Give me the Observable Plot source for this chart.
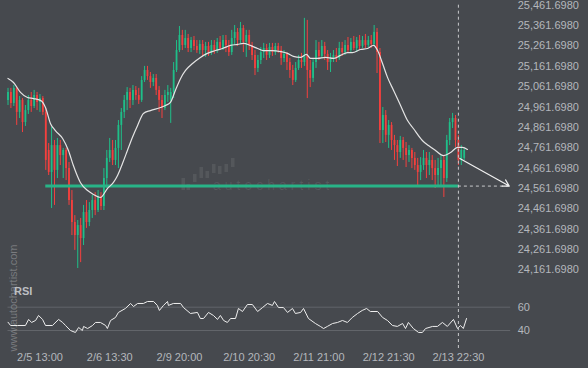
<!DOCTYPE html>
<html><head><meta charset="utf-8">
<script src="https://cdn.jsdelivr.net/npm/d3@7"></script>
<script src="https://cdn.jsdelivr.net/npm/@observablehq/plot@0.6"></script>
<style>
html,body{margin:0;padding:0;background:#46494e;}
#chart{position:relative;width:588px;height:368px;background:#46494e;overflow:hidden;font-family:"Liberation Sans",Arial,sans-serif;}
#chart svg{overflow:visible}
.panel{position:absolute;left:0}
.wm-v{position:absolute;left:13px;top:297.5px;transform:translate(-50%,-50%) rotate(-90deg);font-size:11px;color:rgba(255,255,255,0.28);white-space:nowrap;line-height:1}
.wm-h{position:absolute;left:213px;top:178px;font-size:14px;line-height:1;letter-spacing:4px;color:rgba(255,255,255,0.09);white-space:nowrap}
.rsi{position:absolute;left:14px;top:285.7px;font-size:11px;font-weight:bold;line-height:1;color:#bdbfc2}
</style></head><body><div id="chart"></div>
<script>
// hourly candles, index 0..157 (last = 2/13 ~23:30)
const openP = [
24994,25033,24979,25053,24935,24994,24885,24944,24994,24964,
25018,24984,25003,24935,24748,24640,24772,24650,24772,24723,
24748,24659,24502,24394,24330,24379,24315,24443,24394,24453,
24502,24453,24522,24473,24610,24709,24748,24699,24758,24871,
24935,24994,25033,24994,25043,25018,24994,25092,25141,25111,
25082,25102,25043,24994,24954,25018,24994,25033,25141,25239,
25313,25264,25298,25249,25288,25259,25239,25269,25239,25259,
25229,25264,25239,25279,25249,25288,25264,25229,25298,25328,
25288,25347,25279,25313,25264,25215,25151,25190,25229,25249,
25215,25254,25229,25259,25239,25200,25220,25180,25141,25092,
25151,25190,25180,25215,25141,25102,25180,25239,25210,25259,
25220,25180,25200,25215,25200,25249,25229,25264,25239,25279,
25249,25288,25259,25288,25264,25288,25269,25328,25229,24846,
24920,24822,24871,24797,24772,24738,24797,24758,24723,24748,
24709,24674,24640,24674,24709,24674,24699,24659,24625,24659,
24699,24610,24797,24885,24905,24797,24699,24709];
const highP = [
25053,25053,25067,25062,25013,25003,24969,25018,25033,25043,
25033,25023,25013,24954,24782,24861,24797,24807,24797,24758,
24758,24689,24551,24428,24404,24414,24478,24502,24492,24527,
24541,24551,24541,24659,24748,24807,24797,24797,24895,24954,
25018,25057,25053,25067,25062,25053,25111,25161,25161,25131,
25121,25121,25062,25018,25043,25067,25053,25180,25288,25357,
25338,25338,25318,25303,25308,25288,25288,25288,25279,25279,
25288,25288,25298,25308,25313,25313,25288,25338,25362,25347,
25377,25362,25338,25338,25279,25239,25215,25254,25274,25269,
25274,25274,25274,25274,25259,25239,25229,25200,25166,25180,
25215,25225,25397,25387,25190,25200,25288,25279,25288,25279,
25239,25225,25239,25249,25279,25279,25288,25303,25298,25308,
25303,25313,25308,25318,25308,25313,25362,25347,25249,24959,
24944,24895,24885,24822,24797,24817,24812,24787,24772,24758,
24738,24709,24713,24748,24738,24738,24723,24699,24709,24723,
24723,24822,24905,24930,24920,24822,24772,24758];
const lowP = [
24969,24954,24964,24871,24905,24836,24866,24925,24935,24954,
24944,24935,24920,24650,24625,24463,24478,24610,24674,24610,
24600,24478,24330,24257,24168,24197,24281,24365,24374,24414,
24428,24443,24453,24453,24561,24689,24674,24674,24659,24748,
24905,24944,24954,24969,24994,24974,24984,25082,25092,25053,
25062,25018,24935,24905,24944,24984,24881,25003,25131,25229,
25239,25249,25229,25229,25239,25225,25220,25210,25205,25210,
25215,25220,25225,25239,25239,25229,25210,25215,25264,25259,
25269,25229,25205,25239,25190,25116,25131,25170,25200,25190,
25200,25210,25215,25225,25166,25180,25141,25102,25067,25082,
25141,25151,25161,25003,25057,25082,25151,25190,25200,25190,
25141,25131,25180,25180,25190,25210,25215,25229,25225,25239,
25229,25239,25249,25249,25254,25249,25259,25126,24782,24782,
24787,24758,24748,24699,24669,24709,24699,24664,24689,24659,
24650,24576,24600,24650,24610,24625,24600,24561,24571,24571,
24517,24591,24772,24856,24763,24674,24674,24699];
const closeP = [
25033,24979,25053,24935,24994,24885,24944,24994,24964,25018,
24984,25003,24935,24699,24640,24772,24650,24772,24723,24748,
24659,24502,24394,24330,24379,24315,24443,24394,24453,24502,
24453,24522,24473,24610,24709,24748,24699,24758,24871,24935,
24994,25033,24994,25043,25018,24994,25092,25141,25111,25082,
25102,25043,24994,24954,25018,25033,25033,25141,25239,25313,
25264,25298,25249,25288,25259,25239,25269,25239,25259,25229,
25264,25239,25279,25249,25288,25264,25229,25298,25328,25288,
25347,25279,25313,25264,25215,25151,25190,25229,25249,25215,
25254,25229,25259,25239,25200,25220,25180,25141,25092,25151,
25190,25180,25215,25141,25102,25180,25239,25210,25259,25220,
25180,25200,25215,25200,25249,25229,25264,25239,25279,25249,
25288,25259,25288,25264,25288,25269,25328,25229,24846,24920,
24822,24871,24797,24772,24738,24797,24758,24723,24748,24709,
24674,24640,24674,24709,24674,24699,24659,24625,24659,24699,
24610,24797,24885,24905,24797,24699,24748,24748];

// moving average
const maIdx = [0,1.9,4.3,6.7,8.8,11.2,12.9,14.6,16.3,18.8,20.8,22.5,24.9,27.4,29.4,31.8,34.2,36.3,37.7,39.4,41.1,42.8,44.6,46.6,49,52.5,54.2,55.9,57.6,59.4,61.1,63.5,66.2,68.6,71.4,73.8,76.6,79,81,83.4,85.9,87.9,91,93.8,96.2,98.2,100.6,102.7,104.1,106.5,109.3,112,114.4,116.8,118.5,121.3,123.7,125.8,127.2,128.9,130.6,132.7,135.1,137.5,139.5,142.6,144.7,147.1,149.9,152.3,154.7,156.4,158.1];
const maVal = [25102,25082,25033,25008,25003,24994,24959,24881,24846,24807,24748,24674,24591,24551,24532,24517,24561,24591,24625,24684,24748,24812,24871,24930,24944,24959,24969,24984,25043,25102,25141,25175,25205,25225,25239,25249,25264,25269,25274,25264,25249,25239,25239,25234,25225,25210,25205,25220,25200,25200,25205,25200,25215,25229,25229,25244,25249,25264,25239,25175,25107,25043,24969,24895,24856,24797,24772,24748,24723,24738,24763,24763,24753];

// RSI
const rsiIdx = [0,0.9,3.3,6,7.1,8.1,9.5,10.5,11.9,12.9,15.3,17.4,18.8,19.8,21.5,23.2,24.3,25.6,26,27.4,29.1,30.1,31.8,33.6,34.2,35.3,37,38,40.4,42.2,43.2,44.6,46.6,48,50.1,51.4,52.1,53.5,54.9,55.2,56.9,59.4,60.4,62.8,65.2,66.2,67.3,69,70.7,72.1,73.1,74.2,75.5,76.6,78.3,79.3,80.7,82.4,84.1,85.9,87.6,89.3,91,91.7,93.1,94.8,96.2,97.9,98.9,100.7,101.7,103.4,105.8,107.5,108.6,109.9,111.7,113.4,115.1,116.8,118.5,120.3,121.9,123.4,124.7,127.2,128.9,130.6,132.3,134,135.8,136.8,137.8,139.5,141.3,142.6,143.7,146.1,147.8,149.5,151.2,153.3,154.7,155.7,156.7,157.8];
const rsiVal = [47.1,44.3,44.3,44.3,49.5,46.9,48.6,52.9,49.5,44.3,44.3,49.5,46.9,44.3,40.0,38.3,42.6,40.0,43.5,41.7,44.3,46.9,46.9,44.3,41.7,48.6,51.2,55.5,58.9,63.2,60.6,63.2,63.2,64.9,64.9,61.5,57.2,61.5,64.9,61.5,63.2,63.2,59.7,54.6,55.5,50.3,50.3,55.5,52.9,49.5,52.9,48.6,46.9,50.3,50.3,58.9,56.3,62.3,62.3,56.3,59.7,63.2,61.5,64.9,59.7,59.7,55.5,58.9,54.6,55.5,58.9,50.3,46.0,43.5,41.7,43.5,46.0,46.9,48.6,46.9,51.2,54.6,57.2,58.9,56.3,56.3,51.2,48.6,44.3,43.5,46.0,41.7,46.9,41.7,38.3,38.3,41.7,43.5,43.5,46.9,43.5,49.5,41.7,44.3,41.7,50.3];
const rsiLevels = [40, 60];

// axis ticks
const yTicks = [25461.698,25361.698,25261.698,25161.698,25061.698,24961.698,24861.698,24761.698,24661.698,24561.698,24461.698,24361.698,24261.698,24161.698];
const xTickIdx = [11, 35, 59, 83, 107, 131, 155];
const xTickLabels = ["2/5 13:00","2/6 13:30","2/9 20:00","2/10 20:30","2/11 21:00","2/12 21:30","2/13 22:30"];

// pattern / forecast
const supportLevel = 24573;
const supportStart = 13;
const nowIdx = 155;
const forecastFrom = {i: 155.5, p: 24709};
const forecastTo = {i: 172.5, p: 24573};
const forecastEnd = 173.5;

const GREEN = "#1fbf89", RED = "#f4403e", TXT = "#b4b7bc", DASH = "#c9cacc";
const W = 588, ML = 7.5, MR = 77.8, XD = [0, 173];
const font = {background: "transparent", color: TXT, fontFamily: "Liberation Sans, Arial, sans-serif", fontSize: "11px", overflow: "visible"};

const candles = openP.map((o, i) => ({i, open: o, high: highP[i], low: lowP[i], close: closeP[i]}));
const col = d => d.close >= d.open ? GREEN : RED;
const ma = maIdx.map((t, k) => ({i: t, v: maVal[k]}));
const rsi = rsiIdx.map((t, k) => ({i: t, v: rsiVal[k]}));
const labelOf = new Map(xTickIdx.map((t, k) => [t, xTickLabels[k]]));

const main = Plot.plot({
  width: W, height: 285,
  marginLeft: ML, marginRight: MR, marginTop: 4.7, marginBottom: 15.7,
  style: font,
  x: {domain: XD, axis: null, label: null},
  y: {domain: [24161.698, 25461.698], axis: null, label: null},
  color: {type: "identity"},
  marks: [
    Plot.ruleX(candles, {x: "i", y1: "low", y2: "high", stroke: col, strokeWidth: 1}),
    Plot.ruleX(candles, {x: "i", y1: "open", y2: "close", stroke: col, strokeWidth: 1.8}),
    Plot.ruleY([supportLevel], {x1: supportStart, x2: nowIdx, stroke: "#28b487", strokeWidth: 3}),
    Plot.line(ma, {x: "i", y: "v", stroke: "#e4e4e4", strokeWidth: 1.2, curve: "monotone-x"}),
    Plot.ruleX([nowIdx], {stroke: DASH, strokeDasharray: "3,3", insetTop: 0, insetBottom: -16}),
    Plot.ruleY([supportLevel], {x1: nowIdx, x2: forecastEnd, stroke: DASH, strokeDasharray: "3,3"}),
    Plot.arrow([{a: forecastFrom, b: forecastTo}], {x1: d => d.a.i, y1: d => d.a.p, x2: d => d.b.i, y2: d => d.b.p, stroke: "#f0f0f0", strokeWidth: 1.2, headLength: 9}),
    Plot.axisY(yTicks, {anchor: "right", label: null, tickSize: 0, tickPadding: 7, tickFormat: d3.format(",.4f"), fill: TXT, fontSize: 11})
  ]
});

const rsiPlot = Plot.plot({
  width: W, height: 83,
  marginLeft: ML, marginRight: MR, marginTop: 21.7, marginBottom: 38,
  style: font,
  x: {domain: XD, axis: null, label: null},
  y: {domain: [40, 60], axis: null, label: null},
  marks: [
    Plot.ruleY(rsiLevels, {stroke: "#62656a", strokeWidth: 1}),
    Plot.line(rsi, {x: "i", y: "v", stroke: "#eeeeee", strokeWidth: 1}),
    Plot.ruleX([nowIdx], {stroke: DASH, strokeDasharray: "3,3", insetTop: -21.7, insetBottom: -20}),
    Plot.axisY(rsiLevels, {anchor: "right", label: null, tickSize: 0, tickPadding: 7, fill: TXT, fontSize: 11}),
    Plot.axisX(xTickIdx, {anchor: "bottom", label: null, tickSize: 0, tickPadding: 23, tickFormat: d => labelOf.get(d), fill: TXT, fontSize: 11})
  ]
});

const root = document.getElementById("chart");
main.classList.add("panel"); main.style.top = "0px";
rsiPlot.classList.add("panel"); rsiPlot.style.top = "285px";

// faint watermark icon (decoration)
const ns = "http://www.w3.org/2000/svg";
const icon = document.createElementNS(ns, "svg");
icon.setAttribute("width", "60"); icon.setAttribute("height", "40");
icon.style.position = "absolute"; icon.style.left = "178px"; icon.style.top = "155px";
[[3.5,23,35],[8.5,29,35],[15,19,27],[21.5,12,23],[27.5,16,23],[34,9,18],[40,11,19],[46.5,9,17],[53,3,12]].forEach(([x,t,b]) => {
  const r = document.createElementNS(ns, "rect");
  r.setAttribute("x", x); r.setAttribute("y", t); r.setAttribute("width", 3.5); r.setAttribute("height", b - t);
  r.setAttribute("fill", "rgba(255,255,255,0.08)"); icon.appendChild(r);
});
root.appendChild(icon);
const wmh = document.createElement("div"); wmh.className = "wm-h"; wmh.textContent = "autochartist"; root.appendChild(wmh);

root.appendChild(main);
root.appendChild(rsiPlot);

const wmv = document.createElement("div"); wmv.className = "wm-v"; wmv.textContent = "www.autochartist.com"; root.appendChild(wmv);
const rl = document.createElement("div"); rl.className = "rsi"; rl.textContent = "RSI"; root.appendChild(rl);
</script>
</body></html>
